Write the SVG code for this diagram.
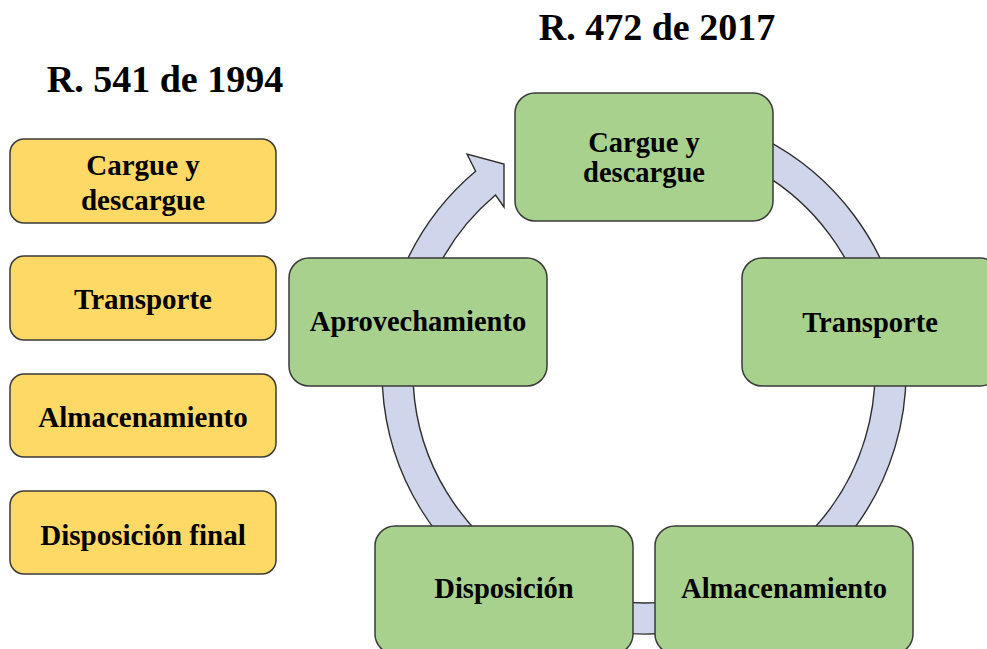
<svg xmlns="http://www.w3.org/2000/svg" width="987" height="649" viewBox="0 0 987 649">
<style>
.t{font-family:"Liberation Serif","Times New Roman",serif;font-weight:bold;fill:#000;text-anchor:middle}
.title{font-size:38px}
.yl{font-size:29px}
.gl{font-size:28.5px}
.ybox{fill:#FFD966;stroke:#3a3a3a;stroke-width:1.5}
.gbox{fill:#A9D18E;stroke:#3a3a3a;stroke-width:1.5}
.ring{fill:#CFD5EA;stroke:#2e2e2e;stroke-width:1.4;stroke-linejoin:miter}
</style>
<rect width="987" height="649" fill="#fff"/>
<text class="t title" x="165" y="92">R. 541 de 1994</text>
<text class="t title" x="657" y="40">R. 472 de 2017</text>
<g id="left-list">
<g id="y1"><rect class="ybox" x="10" y="139" width="266" height="84" rx="14"/><text class="t yl" x="143" y="175">Cargue y</text><text class="t yl" x="143" y="210">descargue</text></g>
<g id="y2"><rect class="ybox" x="10" y="256" width="266" height="84" rx="14"/><text class="t yl" x="143" y="309">Transporte</text></g>
<g id="y3"><rect class="ybox" x="10" y="374" width="266" height="83" rx="14"/><text class="t yl" x="143" y="427">Almacenamiento</text></g>
<g id="y4"><rect class="ybox" x="10" y="491" width="266" height="83" rx="14"/><text class="t yl" x="143" y="545">Disposición final</text></g>
</g>
<g id="connectors">
<path class="ring" d="M644,110 A262,262 0 1 1 475.6,171.3 L467,154 L504,164 L504,207 L495.5,195 A231,231 0 1 0 644,141 Z"/>
</g>
<g id="g1"><rect class="gbox" x="515" y="93" width="258" height="128" rx="20"/><text class="t gl" x="644" y="152">Cargue y</text><text class="t gl" x="644" y="182">descargue</text></g>
<g id="g2"><rect class="gbox" x="742" y="258" width="258" height="128" rx="20"/><text class="t gl" x="870" y="332">Transporte</text></g>
<g id="g3"><rect class="gbox" x="655" y="526" width="258" height="128" rx="20"/><text class="t gl" x="784" y="598">Almacenamiento</text></g>
<g id="g4"><rect class="gbox" x="375" y="526" width="258" height="128" rx="20"/><text class="t gl" x="504" y="598">Disposición</text></g>
<g id="g5"><rect class="gbox" x="289" y="258" width="258" height="128" rx="20"/><text class="t gl" x="418" y="331">Aprovechamiento</text></g>
</svg>
